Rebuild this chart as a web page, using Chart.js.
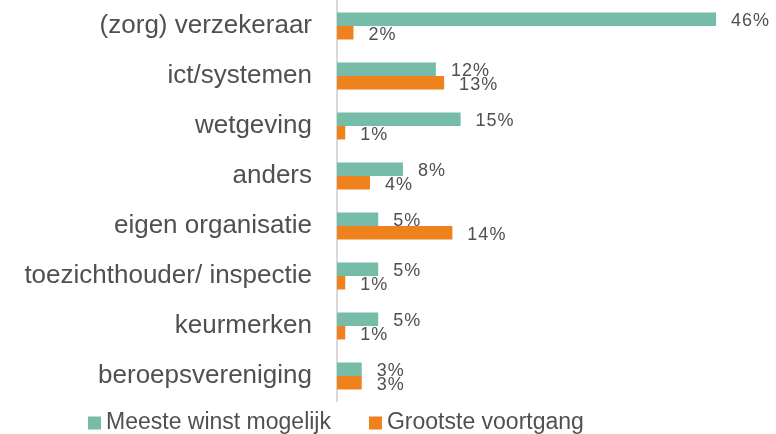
<!DOCTYPE html>
<html>
<head>
<meta charset="utf-8">
<script src="https://cdn.jsdelivr.net/npm/chart.js@4"></script>
<style>
  html, body { margin: 0; padding: 0; background: #fff; }
  #wrap { width: 776px; height: 434px; }
</style>
</head>
<body>
<div id="wrap"><canvas id="chart"></canvas></div>
<script>
const categories = [
  "(zorg) verzekeraar", "ict/systemen", "wetgeving", "anders",
  "eigen organisatie", "toezichthouder/ inspectie", "keurmerken", "beroepsvereniging"
];
const seriesNames = ["Meeste winst mogelijk", "Grootste voortgang"];
const meesteWinst = [46, 12, 15, 8, 5, 5, 5, 3];
const grootsteVoortgang = [2, 13, 1, 4, 14, 1, 1, 3];

const fontFamily = "'Liberation Sans', Arial, sans-serif";
const textColor = "#505050";

// value labels just right of each bar end, like the original
const valueLabels = {
  id: "valueLabels",
  afterDatasetsDraw(chart) {
    const ctx = chart.ctx;
    ctx.save();
    ctx.font = "18px " + fontFamily;
    ctx.letterSpacing = "1px";
    ctx.fillStyle = textColor;
    ctx.textAlign = "left";
    ctx.textBaseline = "middle";
    chart.data.datasets.forEach((ds, i) => {
      chart.getDatasetMeta(i).data.forEach((bar, j) => {
        ctx.fillText(ds.data[j] + "%", bar.x + 15, bar.y + 2);
      });
    });
    ctx.restore();
  }
};

// legend row under the plot, built from the datasets
const bottomLegend = {
  id: "bottomLegend",
  afterDraw(chart) {
    const ctx = chart.ctx;
    ctx.save();
    ctx.font = "23px " + fontFamily;
    ctx.textBaseline = "middle";
    ctx.textAlign = "left";
    let x = 88;
    const y = 423;
    chart.data.datasets.forEach((ds) => {
      ctx.fillStyle = ds.backgroundColor;
      ctx.fillRect(x, y - 6.5, 13, 13);
      ctx.fillStyle = textColor;
      ctx.fillText(ds.label, x + 18, y);
      x += 18 + ctx.measureText(ds.label).width + 38;
    });
    ctx.restore();
  }
};

const ctx = document.getElementById("chart").getContext("2d");
new Chart(ctx, {
  type: "bar",
  data: {
    labels: categories,
    datasets: [
      {
        label: seriesNames[0],
        data: meesteWinst,
        backgroundColor: "#77BCA8",
        barPercentage: 1,
        categoryPercentage: 0.54
      },
      {
        label: seriesNames[1],
        data: grootsteVoortgang,
        backgroundColor: "#F0821E",
        barPercentage: 1,
        categoryPercentage: 0.54
      }
    ]
  },
  options: {
    indexAxis: "y",
    responsive: true,
    maintainAspectRatio: false,
    animation: false,
    layout: { autoPadding: false, padding: { left: 0, right: 27, top: 1, bottom: 33 } },
    plugins: {
      legend: { display: false },
      tooltip: { enabled: false }
    },
    scales: {
      x: { display: false, min: 0, max: 50 },
      y: {
        grid: { display: false, drawTicks: false },
        border: { display: true, color: "#D9D9D9", width: 2 },
        ticks: { padding: 25, color: textColor, font: { family: fontFamily, size: 26 } },
        afterFit(scale) {
          scale.width = 337;
          scale.paddingTop = 0;
          scale.paddingBottom = 0;
        }
      }
    }
  },
  plugins: [valueLabels, bottomLegend]
});
</script>
</body>
</html>
